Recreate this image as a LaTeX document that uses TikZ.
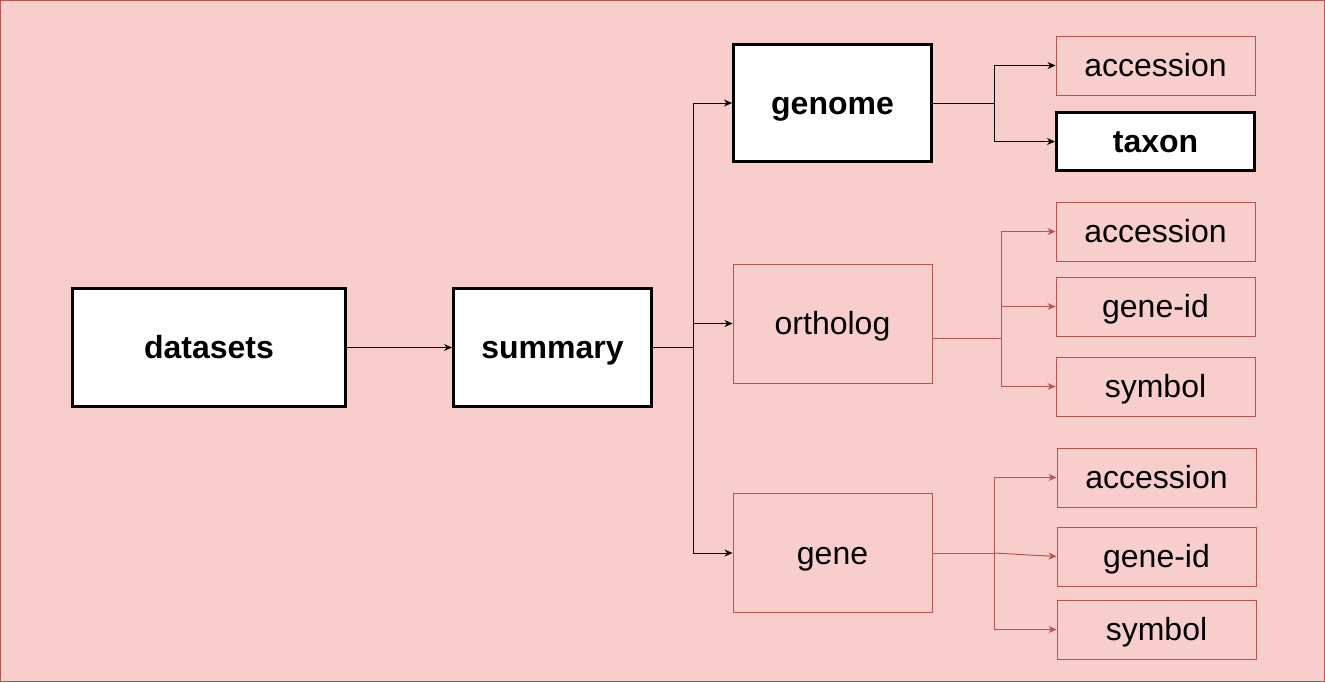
\documentclass[tikz,border=0pt]{standalone}
\usepackage{fontspec}
\setmainfont{Liberation Sans}
\usepackage{tikz}
\usetikzlibrary{arrows.meta,calc}
\definecolor{bgpink}{HTML}{F8CECC}
\definecolor{edgered}{HTML}{B85450}
\tikzset{
	thickbox/.style={rectangle, draw=black, fill=white, line width=1.5pt, inner sep=0pt, font=\bfseries\fontsize{16}{19}\selectfont, text height=14.5pt, text depth=3.4pt},
	thinbox/.style={rectangle, draw=edgered, line width=0.5pt, inner sep=0pt, font=\fontsize{16}{19}\selectfont, text height=14.5pt, text depth=3.4pt},
	blackarrow/.style={draw=black, line width=0.5pt, -{Stealth[length=4pt,width=3.5pt]}},
	redarrow/.style={draw=edgered, line width=0.5pt, -{Stealth[length=4pt,width=3.5pt]}}
}
\begin{document}
\begin{tikzpicture}[x=0.5pt,y=-0.5pt]
			\useasboundingbox (0,0) rectangle (1325,682);
			\filldraw[fill=bgpink, draw=edgered, line width=0.5pt] (0.5,0.5) rectangle (1324.5,681.5);
			
			% main chain
			\node[thickbox, minimum width=136.5pt, minimum height=59pt] (datasets) at (209,347.5) {datasets};
			\node[thickbox, minimum width=99pt, minimum height=59pt] (summary) at (552.5,347.5) {summary};
			\node[thickbox, minimum width=99pt, minimum height=58.5pt] (genome) at (832.5,103) {genome};
			\node[thinbox, minimum width=99.5pt, minimum height=59.5pt] (ortholog) at (832.5,323.5) {ortholog};
			\node[thinbox, minimum width=99.5pt, minimum height=59.5pt] (gene) at (832.5,553) {gene};
			
			% leaves
			\node[thinbox, minimum width=99.5pt, minimum height=29.5pt] (gacc) at (1155.5,65.5) {accession};
			\node[thickbox, minimum width=99pt, minimum height=29pt] (taxon) at (1155.5,141.5) {taxon};
			\node[thinbox, minimum width=99.5pt, minimum height=29.5pt] (oacc) at (1155.5,231.5) {accession};
			\node[thinbox, minimum width=99.5pt, minimum height=29.5pt] (ogid) at (1155.5,306.5) {gene-id};
			\node[thinbox, minimum width=99.5pt, minimum height=29.5pt] (osym) at (1155.5,386.5) {symbol};
			\node[thinbox, minimum width=99.5pt, minimum height=29.5pt] (eacc) at (1156.5,477.5) {accession};
			\node[thinbox, minimum width=99.5pt, minimum height=29.5pt] (egid) at (1156.5,556.5) {gene-id};
			\node[thinbox, minimum width=99.5pt, minimum height=29.5pt] (esym) at (1156.5,629.5) {symbol};
			
			\coordinate (sumbr) at (693,347.5);
			\coordinate (genbr) at (994,103);
			\coordinate (orthbr) at (1001,338);
			\coordinate (genebr) at (994,553);
			
			% connectors
			\draw[blackarrow] (datasets) -- (summary);
			\draw[blackarrow] (summary.east) -- (sumbr) |- (genome.west);
			\draw[blackarrow] (sumbr) |- (ortholog.west);
			\draw[blackarrow] (sumbr) |- (gene.west);
			\draw[blackarrow] (genome.east) -- (genbr) |- (gacc.west);
			\draw[blackarrow] (genbr) |- (taxon.west);
			\draw[redarrow] ($(ortholog.east)+(0,14.5)$) -- (orthbr) |- (oacc.west);
			\draw[redarrow] (orthbr) |- (ogid.west);
			\draw[redarrow] (orthbr) |- (osym.west);
			\draw[redarrow] (gene.east) -- (genebr) |- (eacc.west);
			\draw[redarrow] (genebr) -- (egid.west);
			\draw[redarrow] (genebr) |- (esym.west);
\end{tikzpicture}
\end{document}
